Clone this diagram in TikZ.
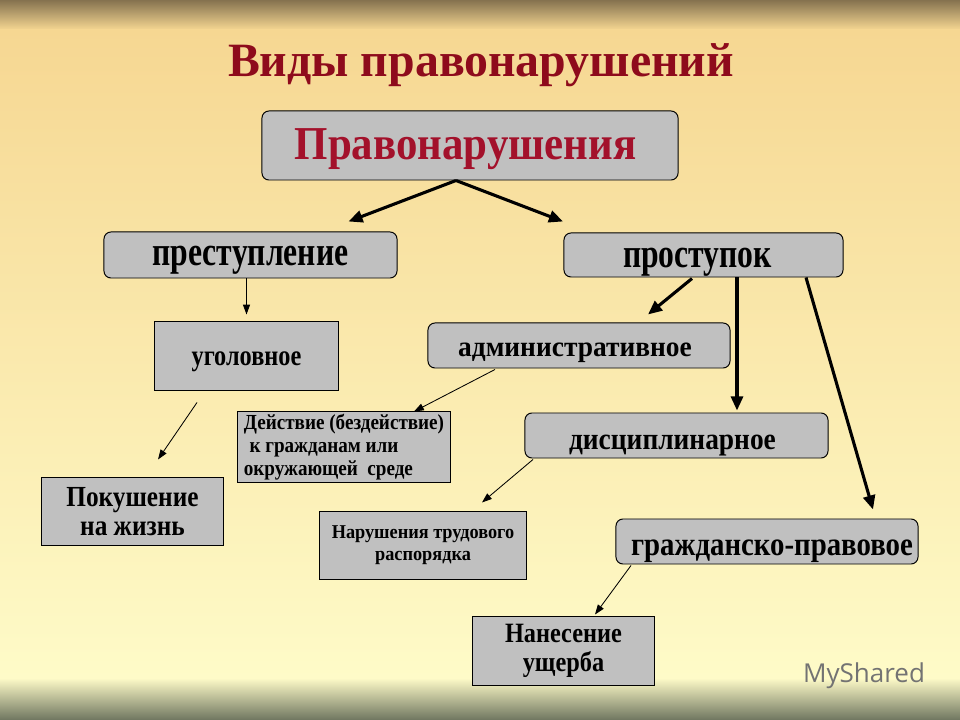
\documentclass[tikz,border=0pt]{standalone}
\usepackage{fontspec}
\usepackage{graphicx}
\setmainfont{Liberation Serif}
\newfontfamily\logofont{Open Sans}
\usetikzlibrary{calc,arrows.meta}

\definecolor{titlered}{HTML}{8E0B1C}
\definecolor{headred}{HTML}{A3112B}
\definecolor{boxgray}{HTML}{C0C0C0}
\definecolor{bgtop}{HTML}{85724F}
\definecolor{bgsand}{HTML}{F6D792}
\definecolor{bgcream}{HTML}{FEFBC8}
\definecolor{bgolive}{HTML}{6F7660}

\newcommand{\vs}[2]{\scalebox{1}[#1]{#2}}

\tikzset{
  rbox/.style={draw, fill=boxgray, rounded corners=5pt, line width=0.7pt, inner sep=0pt},
  sbox/.style={draw, fill=boxgray, line width=0.7pt, inner sep=0pt},
  basedrop/.style={text height=#1, text depth=0pt},
  bigarr/.style={line width=2.2pt, -{Triangle[length=10pt,width=8.5pt]}},
  thinarr/.style={line width=0.6pt, -{Triangle[length=7pt,width=5pt]}}
}

\begin{document}
\begin{tikzpicture}[x=0.025cm, y=-0.025cm]

\useasboundingbox (0,0) rectangle (960,720);
\fill[top color=bgtop, bottom color=bgsand] (0,0) rectangle (960,30);
\fill[top color=bgsand, bottom color=bgcream] (0,30) rectangle (960,678);
\fill[top color=bgcream, bottom color=bgolive] (0,678) rectangle (960,720);

\node[text=titlered, font=\bfseries\fontsize{34}{40}\selectfont] (title) at (481,65) {Виды правонарушений};

\node[rbox, basedrop=0.725cm, minimum width=10.4cm, minimum height=1.725cm, text=headred, font=\bfseries\fontsize{30.5}{36}\selectfont] (top) at (470,145.5) {\vs{1.1}{Правонарушения}\hspace*{0.225cm}};

\node[rbox, basedrop=0.55cm, minimum width=7.325cm, minimum height=1.15cm, font=\bfseries\fontsize{22.5}{26}\selectfont] (prest) at (250.5,255) {\vs{1.3}{преступление}};
\node[rbox, basedrop=0.65cm, minimum width=6.975cm, minimum height=1.1cm, font=\bfseries\fontsize{22.5}{26}\selectfont] (prost) at (703.5,255) {\vs{1.3}{проступок}\hspace*{0.3cm}};

\node[sbox, basedrop=0.45cm, minimum width=4.575cm, minimum height=1.7cm, font=\bfseries\fontsize{17.3}{20}\selectfont] (ugol) at (246.5,356) {\vs{1.2}{уголовное}};
\node[rbox, basedrop=0.575cm, minimum width=7.55cm, minimum height=1.125cm, font=\bfseries\fontsize{19.5}{23}\selectfont] (admin) at (579,345.5) {\vs{1.05}{административное}\hspace*{0.2cm}};
\node[sbox, minimum width=5.3cm, minimum height=1.75cm, align=left, font=\bfseries\fontsize{13.6}{16.3}\selectfont] (deyst) at (344,447) {\vs{1.12}{Действие (бездействие)}\\\hspace{4pt}\vs{1.12}{к гражданам или}\\\vs{1.12}{окружающей\ \ среде}};
\node[rbox, basedrop=0.7cm, minimum width=7.575cm, minimum height=1.125cm, font=\bfseries\fontsize{19.5}{23}\selectfont] (discip) at (676.5,435.5) {\vs{1.12}{дисциплинарное}\hspace*{0.2cm}};

\node[sbox, minimum width=4.525cm, minimum height=1.675cm, align=center, font=\bfseries\fontsize{18}{21}\selectfont] (pokush) at (132.5,511.5) {\vs{1.15}{Покушение}\\\vs{1.15}{на жизнь}};
\node[sbox, minimum width=5.15cm, minimum height=1.675cm, align=center, font=\bfseries\fontsize{13}{15.6}\selectfont] (narush) at (423,545.5) {\vs{1.07}{Нарушения трудового}\\\vs{1.07}{распорядка}};
\node[rbox, basedrop=0.675cm, minimum width=7.55cm, minimum height=1.125cm, font=\bfseries\fontsize{20.5}{24}\selectfont] (grazhd) at (767,541.5) {\hspace*{0.25cm}\vs{1.15}{гражданско-правовое}};
\node[sbox, minimum width=4.525cm, minimum height=1.7cm, align=center, font=\bfseries\fontsize{17.3}{21}\selectfont] (nanes) at (563.5,651) {\vs{1.15}{Нанесение}\\\vs{1.15}{ущерба}};

\node[text=black!55, font=\logofont\fontsize{18.5}{22}\selectfont] (logo) at (864,676) {MyShared};

\draw[bigarr] ($(top.south)+(-14,0)$) to ($(prest.north)+(98,-10)$);
\draw[bigarr] ($(top.south)+(-14,0)$) to ($(prost.north)+(-140.5,-11)$);
\draw[thinarr] (ugol.north |- prest.south) to ($(ugol.north)+(0,-7)$);
\draw[thinarr] ($(ugol.south)+(-49.5,12)$) to ($(pokush.north)+(25.5,-18)$);
\draw[bigarr] ($(prost.south)+(-11.5,1)$) to ($(admin.north)+(69,-8)$);
\draw[bigarr] ($(prost.south)+(33.5,0)$) to ($(discip.north)+(60.5,-2)$);
\draw[bigarr] ($(prost.south)+(102.5,0)$) to ($(grazhd.north)+(106,-9)$);
\draw[thinarr] ($(admin.south)+(-84,1)$) to ($(deyst.north)+(70,0)$);
\draw[thinarr] ($(discip.south)+(-143.5,1)$) to ($(narush.north)+(59,-9)$);
\draw[thinarr] ($(grazhd.south)+(-136,1)$) to ($(nanes.north)+(31.5,-2)$);

\end{tikzpicture}
\end{document}
